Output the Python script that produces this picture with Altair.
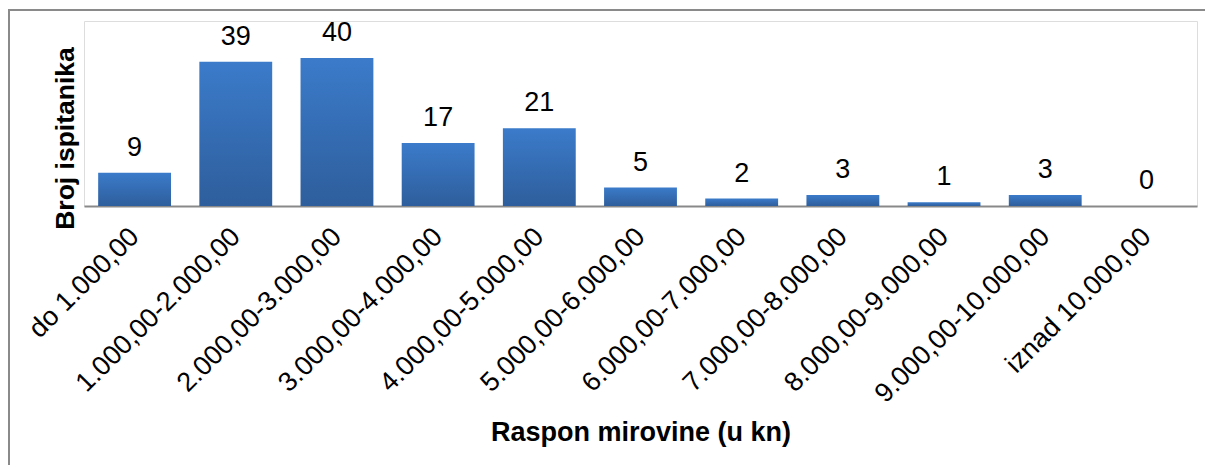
import altair as alt
import pandas as pd

categories = ["do 1.000,00", "1.000,00-2.000,00", "2.000,00-3.000,00", "3.000,00-4.000,00",
              "4.000,00-5.000,00", "5.000,00-6.000,00", "6.000,00-7.000,00", "7.000,00-8.000,00",
              "8.000,00-9.000,00", "9.000,00-10.000,00", "iznad 10.000,00"]
counts = [9, 39, 40, 17, 21, 5, 2, 3, 1, 3, 0]

df = pd.DataFrame({"cat": categories, "n": counts})

FONT = "Liberation Sans"

xenc = alt.X("cat:N", sort=categories,
             scale=alt.Scale(paddingInner=0.28, paddingOuter=0.14),
             axis=alt.Axis(title="Raspon mirovine (u kn)", labelAngle=-45, labelAlign="right",
                           labelBaseline="top", labelPadding=17, labelOffset=-9, ticks=False,
                           labelFont=FONT, labelFontSize=27, labelColor="#000000",
                           titleFont=FONT, titleFontSize=27, titleFontWeight="bold",
                           titleColor="#000000", titleY=226, titleBaseline="middle",
                           domainColor="#898989", domainWidth=2, labelLimit=400))
yenc = alt.Y("n:Q", scale=alt.Scale(domain=[0, 50], nice=False),
             axis=alt.Axis(title="Broj ispitanika", labels=False, ticks=False, domain=False,
                           grid=False, titleFont=FONT, titleFontSize=26.5, titleFontWeight="bold",
                           titleColor="#000000", titleX=-19, titleY=117, titleAngle=270,
                           titleAlign="center", titleBaseline="middle"))

grad = alt.Gradient(gradient="linear",
                    stops=[alt.GradientStop(color="#3b7bca", offset=0),
                           alt.GradientStop(color="#2e5e9c", offset=1)],
                    x1=0, x2=0, y1=0, y2=1)

base = alt.Chart(df)
bars = base.mark_bar(color=grad).encode(x=xenc, y=yenc)
labels = base.mark_text(baseline="bottom", dy=-11, font=FONT, fontSize=27, color="#000000").encode(
    x=alt.X("cat:N", sort=categories), y=alt.Y("n:Q"), text="n:Q")

frame_df = pd.DataFrame({"a": [0]})
left_line = alt.Chart(frame_df).mark_rule(color="#8a8a8a", strokeWidth=2).encode(
    x=alt.value(-75), y=alt.value(-11), y2=alt.value(500))
top_line = alt.Chart(frame_df).mark_rule(color="#8a8a8a", strokeWidth=2).encode(
    x=alt.value(-76), x2=alt.value(1200), y=alt.value(-11))

chart = alt.layer(bars, labels, left_line, top_line).properties(
    width=1113, height=185,
    autosize=alt.AutoSizeParams(type="none"),
    padding={"left": 76, "top": 13, "right": 8, "bottom": 259},
).configure_view(stroke=None).configure(background="#ffffff")

chart.save("out.html", embed_options={"renderer": "svg", "actions": False})
